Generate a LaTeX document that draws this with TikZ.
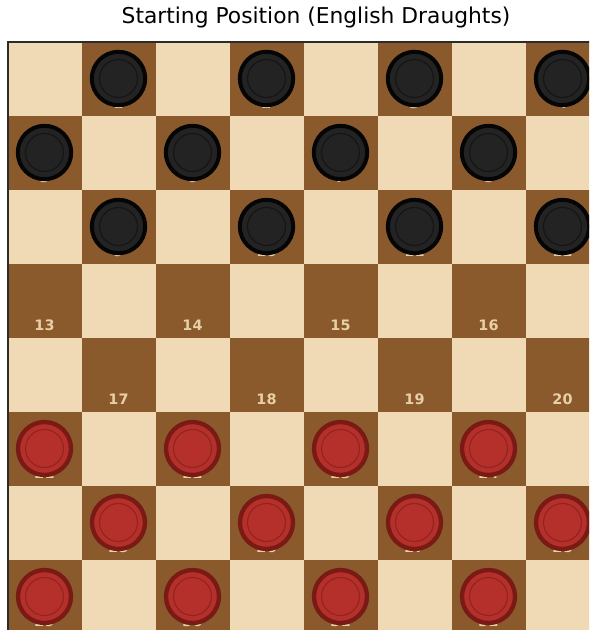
\documentclass[tikz,border=0pt]{standalone}
\usepackage{fontspec}
\setmainfont{DejaVu Sans}
\definecolor{boardLight}{HTML}{F0D9B5}
\definecolor{boardDark}{HTML}{8A5A2C}
\definecolor{boardFrame}{HTML}{2B2B2B}
\definecolor{numberTan}{HTML}{E8D0A6}
\definecolor{blackRim}{HTML}{050505}
\definecolor{blackBody}{HTML}{232323}
\definecolor{blackGroove}{HTML}{151515}
\definecolor{redRim}{HTML}{7A1A14}
\definecolor{redBody}{HTML}{B6302B}
\definecolor{redGroove}{HTML}{92241F}
\tikzset{
	titulo/.style={
		font=\fontsize{18.6}{22}\selectfont,
		text=black,
		inner sep=0pt
	},
	sqNumber/.style={
		font=\fontsize{12.3}{14}\selectfont\bfseries,
		text=numberTan,
		inner sep=0pt
	},
	frameLine/.style={
		draw=boardFrame,
		line width=0.6mm
	},
	blackPiece/.style={
		fill=blackBody,
		draw=blackRim,
		line width=1.2mm
	},
	redPiece/.style={
		fill=redBody,
		draw=redRim,
		line width=1.3mm
	},
	blackInner/.style={
		draw=blackGroove,
		line width=0.35mm
	},
	redInner/.style={
		draw=redGroove,
		line width=0.35mm
	}
}
\begin{document}
\begin{tikzpicture}[x=0.3mm,y=-0.3mm]
		\useasboundingbox (0,0) rectangle (589,630);
		\clip (0,0) rectangle (589,630);
		\fill[white] (0,0) rectangle (589,630);
		\node[titulo] (title) at (316,17) {Starting Position (English Draughts)};
		% squares and numbers
		\foreach \r in {0,...,7}{
			\foreach \c in {0,...,7}{
				\pgfmathtruncatemacro{\isDark}{mod(\r+\c,2)}
				\ifnum\isDark=1
					\fill[boardDark] ({7.5+74*\c},{42+74*\r}) rectangle +(74,74);
					\pgfmathtruncatemacro{\sqNum}{4*\r+int(\c/2)+1}
					\node[sqNumber] (num\sqNum) at ({44.5+74*\c},{103+74*\r}) {\sqNum};
				\else
					\fill[boardLight] ({7.5+74*\c},{42+74*\r}) rectangle +(74,74);
				\fi
			}
		}
		\draw[frameLine] (7.5,42) rectangle (599.5,634);
		% pieces
		\foreach \r in {0,1,2,5,6,7}{
			\foreach \c in {0,...,7}{
				\pgfmathtruncatemacro{\isDark}{mod(\r+\c,2)}
				\ifnum\isDark=1
					\ifnum\r<3
						\draw[blackPiece] ({44.5+74*\c},{78.5+74*\r}) circle (26.7);
						\draw[blackInner] ({44.5+74*\c},{78.5+74*\r}) circle (19);
					\else
						\draw[redPiece] ({44.5+74*\c},{78.5+74*\r}) circle (26.5);
						\draw[redInner] ({44.5+74*\c},{78.5+74*\r}) circle (19);
					\fi
				\fi
			}
		}
	\end{tikzpicture}
\end{document}
